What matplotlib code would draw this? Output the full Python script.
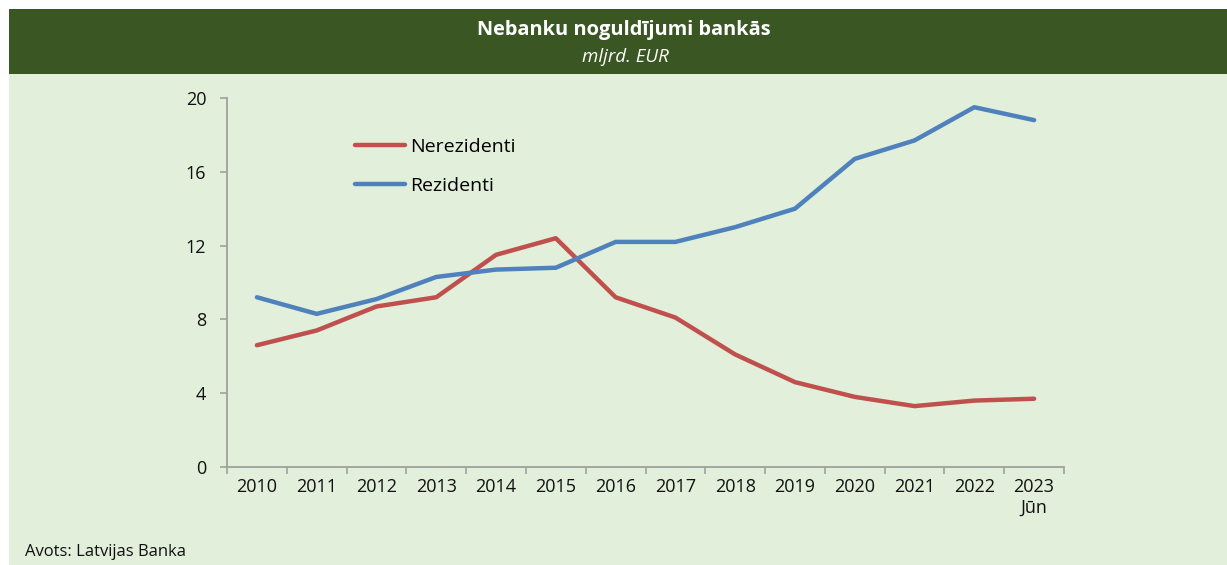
import numpy as np
import matplotlib.pyplot as plt
from matplotlib.patches import Rectangle
from matplotlib.ticker import FixedLocator

plt.rcParams['font.family'] = ['Open Sans', 'DejaVu Sans']

years = ['2010', '2011', '2012', '2013', '2014', '2015', '2016',
         '2017', '2018', '2019', '2020', '2021', '2022', '2023\nJūn']
nerezidenti = [6.6, 7.4, 8.7, 9.2, 11.5, 12.4, 9.2, 8.1, 6.1, 4.6, 3.8, 3.3, 3.6, 3.7]
rezidenti = [9.2, 8.3, 9.1, 10.3, 10.7, 10.8, 12.2, 12.2, 13.0, 14.0, 16.7, 17.7, 19.5, 18.8]

bg_light = '#e2efda'
bg_dark = '#3a5723'
axis_grey = '#a0a0a0'

fig = plt.figure(figsize=(12.27, 5.65), dpi=100, facecolor='white')
W, H = 1227, 565

# panel background and title bar
fig.patches.append(Rectangle((9 / W, 0), 1 - 9 / W, 1 - 9 / H, transform=fig.transFigure,
                             facecolor=bg_light, edgecolor='none', zorder=-10))
fig.patches.append(Rectangle((9 / W, 1 - 74 / H), 1 - 9 / W, 65 / H, transform=fig.transFigure,
                             facecolor=bg_dark, edgecolor='none', zorder=-9))
fig.text(624 / W, 1 - 30 / H, 'Nebanku noguldījumi bankās', color='white', fontsize=14.4,
         fontweight='bold', ha='center', va='center')
fig.text(625 / W, 1 - 57 / H, 'mljrd. EUR', color='white', fontsize=13.5,
         style='italic', ha='center', va='center')
fig.text(25 / W, 1 - 552 / H, 'Avots: Latvijas Banka', color='#111111', fontsize=12,
         ha='left', va='center')

ax = fig.add_axes([227 / W, 1 - 467 / H, (1064 - 227) / W, (467 - 98) / H])
ax.set_facecolor('none')
ax.set_zorder(1)

x = np.arange(len(years))
ax.plot(x, nerezidenti, color='#c0504d', lw=3.2, solid_capstyle='round', label='Nerezidenti')
ax.plot(x, rezidenti, color='#4f81bd', lw=3.2, solid_capstyle='round', label='Rezidenti')

ax.set_xlim(-0.5, len(years) - 0.5)
ax.set_ylim(0, 20)
ax.set_yticks([0, 4, 8, 12, 16, 20])
ax.set_xticks(x)
ax.set_xticklabels(years)
ax.xaxis.set_minor_locator(FixedLocator(np.arange(-0.5, len(years), 1)))

for side in ['top', 'right']:
    ax.spines[side].set_visible(False)
for side in ['left', 'bottom']:
    ax.spines[side].set_color(axis_grey)
    ax.spines[side].set_linewidth(1.3)

ax.tick_params(axis='x', which='major', length=0, pad=8, labelsize=13, labelcolor='#111111')
ax.tick_params(axis='x', which='minor', length=5, width=1.2, color=axis_grey, direction='out')
ax.tick_params(axis='y', length=5, width=1.2, color=axis_grey, direction='out', pad=10,
               labelsize=13, labelcolor='#111111')

ax.legend(loc='upper left', bbox_to_anchor=(345 / W, 1 - 128 / H),
          bbox_transform=fig.transFigure, frameon=False, fontsize=14,
          handlelength=2.6, handletextpad=0.25, labelspacing=1.1, borderpad=0)

fig.savefig('out.png', dpi=100, facecolor=fig.get_facecolor())
